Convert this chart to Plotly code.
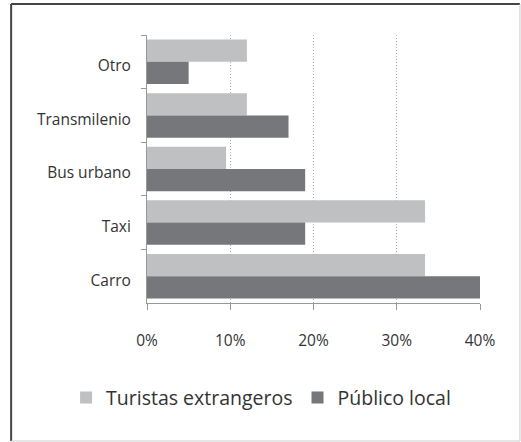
import plotly.graph_objects as go

categories = ["Otro", "Transmilenio", "Bus urbano", "Taxi", "Carro"]
turistas = [12, 12, 9.5, 33.4, 33.4]
publico = [5, 17, 19, 19, 40]
series_names = ["Turistas extrangeros", "Público local"]
x_ticks = [0, 10, 20, 30, 40]
x_tick_labels = ["0%", "10%", "20%", "30%", "40%"]

FONT = "Open Sans"
fig = go.Figure()
fig.add_trace(go.Bar(y=categories, x=turistas, orientation="h", name=series_names[0],
                     marker=dict(color="#bfc0c2", line=dict(width=0))))
fig.add_trace(go.Bar(y=categories, x=publico, orientation="h", name=series_names[1],
                     marker=dict(color="#76777a", line=dict(width=0))))

fig.update_layout(
    width=521, height=442,
    margin=dict(l=147, r=41, t=35, b=139, autoexpand=False),
    paper_bgcolor="white", plot_bgcolor="white",
    barmode="group", bargap=0.17, bargroupgap=0,
    font=dict(family=FONT, color="#333333", size=15.5),
    showlegend=True,
    legend=dict(orientation="h", x=-0.243, xanchor="left", y=-0.354, yanchor="middle",
                font=dict(size=19.5, color="#333333"), itemwidth=30, traceorder="normal",
                bgcolor="rgba(0,0,0,0)"),
    xaxis=dict(range=[0, 40], tickvals=x_ticks, ticktext=x_tick_labels,
               showgrid=True, gridcolor="#aaaaaa", griddash="1px,2px", gridwidth=1.2,
               showline=True, linecolor="#999999", linewidth=1,
               ticks="outside", ticklen=6, tickcolor="#999999",
               ticklabelstandoff=17, zeroline=False, tickfont=dict(size=15.5)),
    yaxis=dict(categoryorder="array", categoryarray=categories, autorange="reversed",
               showline=True, linecolor="#999999", linewidth=1,
               ticks="outside", ticklen=5, tickcolor="#999999", tickson="boundaries",
               ticklabelstandoff=12, ticklabelshift=-4, showgrid=False,
               tickfont=dict(size=15.5)),
    shapes=[
        dict(type="line", xref="paper", yref="paper", x0=-0.408, x1=-0.408, y0=-0.515, y1=1.1157,
             line=dict(color="#444444", width=2)),
        dict(type="line", xref="paper", yref="paper", x0=-0.408, x1=1.120, y0=1.1157, y1=1.1157,
             line=dict(color="#444444", width=2)),
        dict(type="line", xref="paper", yref="paper", x0=1.120, x1=1.120, y0=-0.515, y1=1.1157,
             line=dict(color="#cccccc", width=1)),
        dict(type="line", xref="paper", yref="paper", x0=-0.408, x1=1.120, y0=-0.515, y1=-0.515,
             line=dict(color="#cccccc", width=1)),
    ],
)

fig.write_html("out.html", config={"displayModeBar": False},
               post_script="document.body.style.margin='0px';")
